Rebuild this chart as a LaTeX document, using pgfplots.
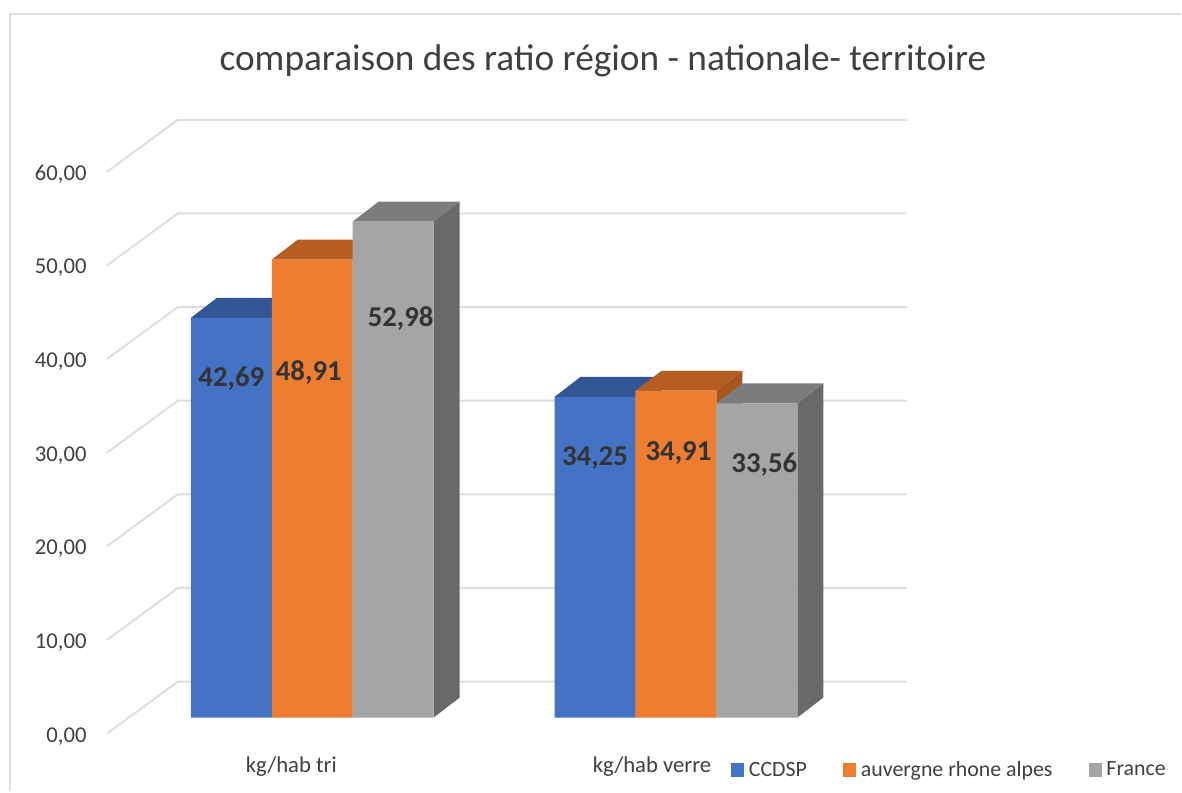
\documentclass[border=0pt]{standalone}
\usepackage{pgfplots}
\pgfplotsset{compat=1.18}
\usepackage{fontspec}
\setmainfont{Carlito}
\definecolor{cblue}{HTML}{4472C4}
\definecolor{corange}{HTML}{ED7D31}
\definecolor{cgray}{HTML}{A5A5A5}
\definecolor{tblue}{HTML}{325596}
\definecolor{torange}{HTML}{B65D21}
\definecolor{tgray}{HTML}{7C7C7C}
\definecolor{sblue}{HTML}{2A4A80}
\definecolor{sorange}{HTML}{A85520}
\definecolor{sgray}{HTML}{696969}
\definecolor{gridc}{HTML}{DEDEDE}
\definecolor{txt}{HTML}{404040}
% depth faces of one bar: left edge, right edge, value, top colour, side colour
\newcommand\depthfaces[5]{%
  \pgfmathsetmacro\xa{#1+26}\pgfmathsetmacro\xb{#2+26}\pgfmathsetmacro\vb{#3+2.13}%
  \edef\tmp{\noexpand\addplot[forget plot,fill=#5,draw=none] coordinates {(#2,0)(\xb,2.13)(\xb,\vb)(#2,#3)} --cycle;
  \noexpand\addplot[forget plot,fill=#4,draw=none] coordinates {(#1,#3)(#2,#3)(\xb,\vb)(\xa,\vb)} --cycle;}\tmp}
\newcommand\wall[1]{%
  \pgfmathsetmacro\va{#1-1.71}\pgfmathsetmacro\vb{#1+3.84}%
  \edef\tmp{\noexpand\addplot[forget plot,gridc,line width=1.5pt] coordinates {(107,\va)(178,\vb)(908,\vb)};}\tmp}
\pgfplotsset{frontbar/.style={
  ybar, bar shift=0pt, bar width=60.75pt, draw=none,
  visualization depends on={\thisrow{dx} \as \labdx},
  visualization depends on={\thisrow{dy} \as \labdy},
  nodes near coords,
  nodes near coords style={/pgf/number format/.cd,fixed,fixed zerofill,precision=2,use comma,assume math mode=true,
     /tikz/.cd, anchor=center, xshift=\labdx pt, yshift=\labdy pt, font=\fontsize{21.6pt}{24pt}\selectfont\bfseries, text=black!80},
  legend image code/.code={\fill[##1] (0pt,-5pt) rectangle (10pt,5pt);},
}}
\begin{document}
\begin{tikzpicture}
\begin{axis}[
  scale only axis, width=886.5pt, height=594pt,
  xmin=0, xmax=1182, ymin=-7.88, ymax=76.64,
  clip=false,
  axis line style={draw=none},
  major tick length=0pt,
  tick style={draw=none},
  ytick={0,10,20,30,40,50,60},
  ticklabel style={font=\fontsize{17pt}{20pt}\selectfont, text=txt},
  yticklabel style={/pgf/number format/.cd,fixed,fixed zerofill,precision=2,use comma,assume math mode=true,
     /tikz/.cd, anchor=east, xshift=68.5pt, yshift=-14pt},
  xtick={291.5,652.5},
  xticklabels={kg/hab tri,kg/hab verre},
  xticklabel style={anchor=center, yshift=18.3pt},
  title={comparaison des ratio région - nationale- territoire},
  title style={at={(axis description cs:0.5105,0.9125)}, anchor=center, font=\fontsize{28pt}{32pt}\selectfont, text=txt},
  legend style={at={(axis cs:731.5,-5.6)}, anchor=west, draw=none, fill=none, inner sep=0pt, outer sep=0pt,
     font=\fontsize{16.4pt}{18pt}\selectfont, text=txt,
     legend columns=-1, /tikz/every even column/.append style={column sep=25pt},
     /tikz/every odd column/.append style={column sep=1.5pt}},
]
\wall{0}\wall{10}\wall{20}\wall{30}\wall{40}\wall{50}\wall{60}
\depthfaces{191}{272}{42.69}{tblue}{sblue}
\depthfaces{555}{636}{34.25}{tblue}{sblue}
\addplot[frontbar,fill=cblue] table[x=x,y=y] {
x y dx dy
231.5 42.69 0 -45.5
595.5 34.25 0 -46
};
\addlegendentry{CCDSP}
\depthfaces{272}{353}{48.91}{torange}{sorange}
\depthfaces{636}{717}{34.91}{torange}{sorange}
\addplot[frontbar,fill=corange] table[x=x,y=y] {
x y dx dy
312.5 48.91 -2.6 -84.7
676.5 34.91 1.9 -46.8
};
\addlegendentry{auvergne rhone alpes}
\depthfaces{353}{434}{52.98}{tgray}{sgray}
\depthfaces{717}{798}{33.56}{tgray}{sgray}
\addplot[frontbar,fill=cgray] table[x=x,y=y] {
x y dx dy
393.5 52.98 5.6 -72.7
757.5 33.56 5.6 -46
};
\addlegendentry{France}
\draw[gridc,line width=1.5pt] (axis cs:10,-7.88) -- (axis cs:10,75.15) -- (axis cs:1182,75.15);
\end{axis}
\end{tikzpicture}
\end{document}
